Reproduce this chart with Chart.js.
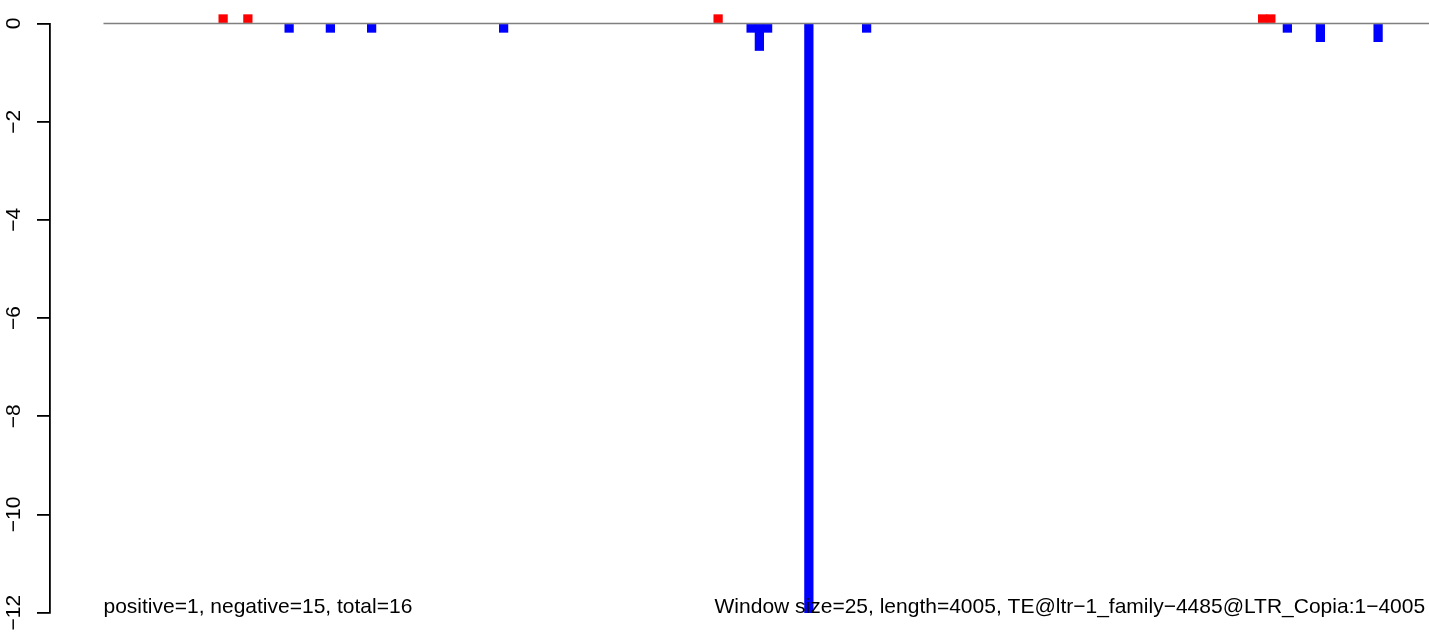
<!DOCTYPE html>
<html>
<head>
<meta charset="utf-8">
<script src="https://cdn.jsdelivr.net/npm/chart.js@4/dist/chart.umd.min.js"></script>
<style>
  html, body { margin: 0; padding: 0; background: #fff; overflow: hidden; }
  #wrap { width: 1429px; height: 634px; }
</style>
</head>
<body>
<div id="wrap"><canvas id="plot"></canvas></div>
<script>
// windows (index of the 25 bp window) and their scores
const windowIndex = [14, 17, 22, 27, 32, 48, 74, 78, 79, 80, 85, 92, 140, 141, 143, 147, 154];
const windowScore = [0.18, 0.18, -0.18, -0.18, -0.18, -0.18, 0.18, -0.18, -0.55, -0.18, -12, -0.18, 0.18, 0.18, -0.18, -0.37, -0.37];
const yTicks = [-12, -10, -8, -6, -4, -2, 0];
const windowSize = 25;
const seqLength = 4005;
const leftNote = "positive=1, negative=15, total=16";
const rightNote = "Window size=25, length=4005, TE@ltr\u22121_family\u22124485@LTR_Copia:1\u22124005";

const FONT = '"Liberation Sans", Arial, sans-serif';

let bars = [];
let colors = [];
for (let i = 0; i < windowIndex.length; i++) {
  bars.push({ x: windowIndex[i] + 0.5, y: windowScore[i] });
  colors.push(windowScore[i] > 0 ? "#ff0000" : "#0000ff");
}

function minus(v) {
  return v < 0 ? "\u2212" + Math.abs(v) : String(v);
}

// bottom notes, placed with the chart's own scales
const notes = {
  id: "notes",
  afterDraw(chart) {
    const ctx = chart.ctx;
    const xs = chart.scales.x, ys = chart.scales.y;
    ctx.save();
    ctx.font = "21px " + FONT;
    ctx.fillStyle = "#000";
    ctx.textBaseline = "alphabetic";
    const yy = ys.getPixelForValue(-12);
    ctx.textAlign = "left";
    ctx.fillText(leftNote, xs.getPixelForValue(0), yy);
    ctx.textAlign = "right";
    ctx.fillText(rightNote, xs.getPixelForValue(seqLength / windowSize), yy);
    ctx.restore();
  }
};

new Chart(document.getElementById("plot"), {
  type: "bar",
  data: {
    datasets: [
      {
        type: "line",
        data: [{ x: 0, y: 0 }, { x: 170, y: 0 }],
        borderColor: "#808080",
        borderWidth: 1.3,
        pointRadius: 0,
        clip: false,
        order: 0
      },
      {
        type: "bar",
        data: bars,
        backgroundColor: colors,
        borderWidth: 0,
        barThickness: 8.6,
        clip: false,
        order: 1
      }
    ]
  },
  options: {
    responsive: true,
    maintainAspectRatio: false,
    animation: false,
    layout: { padding: { left: 0, right: 0, top: 23.5, bottom: 21.3 } },
    plugins: { legend: { display: false }, tooltip: { enabled: false } },
    scales: {
      x: {
        type: "linear",
        display: false,
        offset: false,
        min: -6.485,
        max: 160.67
      },
      y: {
        min: -12,
        max: 0,
        border: { display: true, color: "#000", width: 1.8 },
        grid: { drawOnChartArea: false, drawTicks: true, tickLength: 13, color: "#000", lineWidth: 1.8 },
        ticks: {
          minRotation: 90,
          maxRotation: 90,
          crossAlign: "center",
          padding: 5,
          color: "#000",
          font: { family: FONT, size: 21 },
          callback: (v) => minus(v)
        },
        afterBuildTicks: (scale) => {
          scale.ticks = yTicks.map((v) => ({ value: v }));
        },
        afterFit: (scale) => {
          scale.width = 50;
          scale.paddingTop = 0;
          scale.paddingBottom = 0;
        }
      }
    }
  },
  plugins: [notes]
});
</script>
</body>
</html>
